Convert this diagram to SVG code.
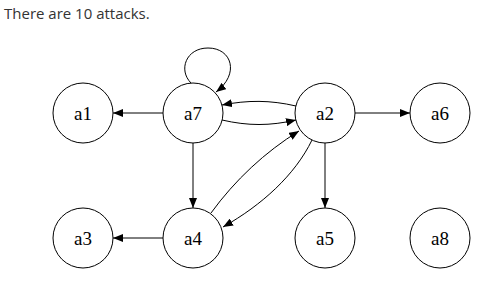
<svg xmlns="http://www.w3.org/2000/svg" width="490" height="283" viewBox="0 0 490 283">
  <style>
    .node circle { fill: #fff; stroke: #000; stroke-width: 1; }
    .node text { font-family: "Liberation Serif", serif; font-size: 19px; text-anchor: middle; fill: #000; }
    .edge { fill: none; stroke: #000; stroke-width: 1; marker-end: url(#arrow); }
    .caption { font-family: "Open Sans", "Noto Sans", sans-serif; font-size: 15px; fill: #333; }
  </style>
  <defs>
    <marker id="arrow" viewBox="0 0 10 8" refX="10" refY="4" markerWidth="10" markerHeight="8" markerUnits="userSpaceOnUse" orient="auto">
      <path d="M0,0 L10,4 L0,8 Z" fill="#000"/>
    </marker>
  </defs>
  <rect width="490" height="283" fill="#fff"/>
  <text class="caption" x="4" y="19">There are 10 attacks.</text>

  <g id="edges">
    <!-- a7 self loop -->
    <path class="edge" d="M191,83 C178,70 186,48 208,48 C232,48 240,74 216,92"/>
    <!-- a7 -> a1 -->
    <path class="edge" d="M163,113 L113,113"/>
    <!-- a2 -> a7 -->
    <path class="edge" d="M296,106 C270,100 248,100 222,105"/>
    <!-- a7 -> a2 -->
    <path class="edge" d="M222,120 C248,126 270,126 296,120"/>
    <!-- a7 -> a4 -->
    <path class="edge" d="M193,143 L193,208"/>
    <!-- a2 -> a6 -->
    <path class="edge" d="M355,113 L410,113"/>
    <!-- a2 -> a5 -->
    <path class="edge" d="M325,143 L325,208"/>
    <!-- a4 -> a2 -->
    <path class="edge" d="M211,213 C235,180 265,152 299,131"/>
    <!-- a2 -> a4 -->
    <path class="edge" d="M312,140 C295,175 262,205 223,227"/>
    <!-- a4 -> a3 -->
    <path class="edge" d="M163,238 L113,238"/>
  </g>

  <g id="a1" class="node"><circle cx="83" cy="113" r="30"/><text x="83" y="120">a1</text></g>
  <g id="a7" class="node"><circle cx="193" cy="113" r="30"/><text x="193" y="120">a7</text></g>
  <g id="a2" class="node"><circle cx="325" cy="113" r="30"/><text x="325" y="120">a2</text></g>
  <g id="a6" class="node"><circle cx="440" cy="113" r="30"/><text x="440" y="120">a6</text></g>
  <g id="a3" class="node"><circle cx="83" cy="238" r="30"/><text x="83" y="245">a3</text></g>
  <g id="a4" class="node"><circle cx="193" cy="238" r="30"/><text x="193" y="245">a4</text></g>
  <g id="a5" class="node"><circle cx="325" cy="238" r="30"/><text x="325" y="245">a5</text></g>
  <g id="a8" class="node"><circle cx="440" cy="238" r="30"/><text x="440" y="245">a8</text></g>
</svg>
